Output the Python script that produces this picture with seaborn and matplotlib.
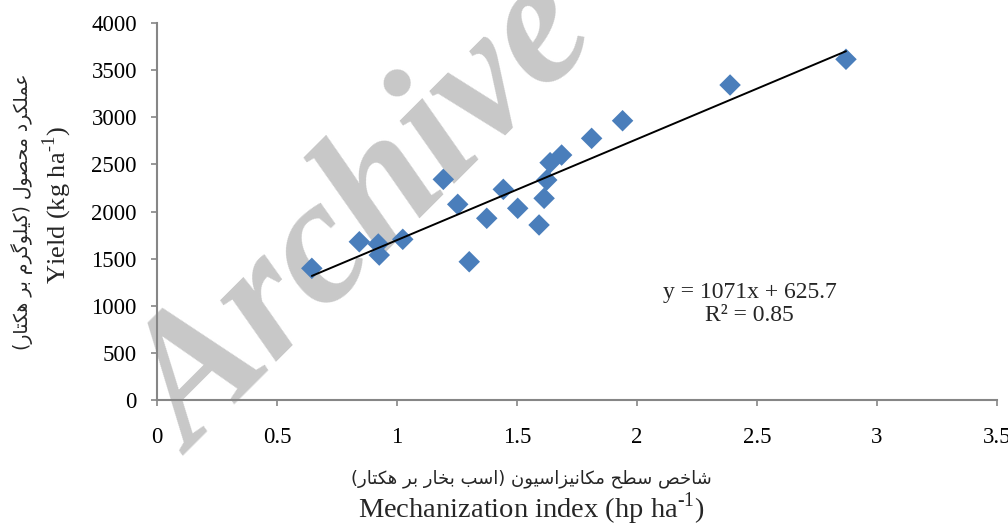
import matplotlib
matplotlib.use("Agg")
import matplotlib.pyplot as plt
import matplotlib.ticker as mticker
import numpy as np
import pandas as pd
import seaborn as sns

# ---------------- data ----------------
mech_index = [0.645, 0.843, 0.922, 0.926, 1.024, 1.193, 1.253, 1.301, 1.374, 1.443,
              1.503, 1.592, 1.613, 1.624, 1.638, 1.686, 1.811, 1.940, 2.388, 2.871]
yield_kg = [1397, 1679, 1655, 1538, 1705, 2341, 2076, 1467, 1928, 2235,
            2034, 1857, 2140, 2334, 2518, 2599, 2776, 2963, 3342, 3615]
slope = 1071
intercept = 625.7
r2 = 0.85
x_ticks = [0, 0.5, 1, 1.5, 2, 2.5, 3, 3.5]
y_ticks = [0, 500, 1000, 1500, 2000, 2500, 3000, 3500, 4000]

xlabel_fa = "شاخص سطح مکانیزاسیون (اسب بخار بر هکتار)"
xlabel_en = r"Mechanization index (hp ha$^{\text{-1}}$)"
ylabel_fa = "عملکرد محصول (کیلوگرم بر هکتار)"
ylabel_en = r"Yield (kg ha$^{\text{-1}}$)"
watermark = "Archive"

# ---------------- minimal Persian shaping (presentation forms) ----------------
FORMS = {
    'ا': (0xFE8D, 0xFE8E, None, None),
    'ب': (0xFE8F, 0xFE90, 0xFE91, 0xFE92),
    'ت': (0xFE95, 0xFE96, 0xFE97, 0xFE98),
    'ح': (0xFEA1, 0xFEA2, 0xFEA3, 0xFEA4),
    'خ': (0xFEA5, 0xFEA6, 0xFEA7, 0xFEA8),
    'د': (0xFEA9, 0xFEAA, None, None),
    'ر': (0xFEAD, 0xFEAE, None, None),
    'ز': (0xFEAF, 0xFEB0, None, None),
    'س': (0xFEB1, 0xFEB2, 0xFEB3, 0xFEB4),
    'ش': (0xFEB5, 0xFEB6, 0xFEB7, 0xFEB8),
    'ص': (0xFEB9, 0xFEBA, 0xFEBB, 0xFEBC),
    'ط': (0xFEC1, 0xFEC2, 0xFEC3, 0xFEC4),
    'ع': (0xFEC9, 0xFECA, 0xFECB, 0xFECC),
    'ل': (0xFEDD, 0xFEDE, 0xFEDF, 0xFEE0),
    'م': (0xFEE1, 0xFEE2, 0xFEE3, 0xFEE4),
    'ن': (0xFEE5, 0xFEE6, 0xFEE7, 0xFEE8),
    'ه': (0xFEE9, 0xFEEA, 0xFEEB, 0xFEEC),
    'و': (0xFEED, 0xFEEE, None, None),
    'ک': (0xFB8E, 0xFB8F, 0xFB90, 0xFB91),
    'گ': (0xFB92, 0xFB93, 0xFB94, 0xFB95),
    'ی': (0xFBFC, 0xFBFD, 0xFBFE, 0xFBFF),
}


def shape_rtl(s):
    out = []
    for i, c in enumerate(s):
        if c not in FORMS:
            out.append(c)
            continue
        prev = s[i - 1] if i > 0 else None
        nxt = s[i + 1] if i + 1 < len(s) else None
        f = FORMS[c]
        jp = prev in FORMS and FORMS[prev][2] is not None
        jn = nxt in FORMS and f[2] is not None
        if jp and jn:
            code = f[3]
        elif jp:
            code = f[1]
        elif jn:
            code = f[2]
        else:
            code = f[0]
        out.append(chr(code))
    vis = ''.join(reversed(out))
    return vis.translate(str.maketrans('()', ')('))


# ---------------- style ----------------
sns.set_theme(style="white")
plt.rcParams['font.family'] = ['Liberation Serif', 'DejaVu Sans']
plt.rcParams['mathtext.fontset'] = 'custom'
plt.rcParams['mathtext.rm'] = 'Liberation Serif'

SPINE = '#868686'
BLUE = '#4A7EBB'

fig = plt.figure(figsize=(10.08, 5.26), dpi=100)
fig.patch.set_facecolor('white')
ax = fig.add_axes([0.1558, 0.2395, 0.8332, 0.7168])

df = pd.DataFrame({'x': mech_index, 'y': yield_kg})
sns.scatterplot(data=df, x='x', y='y', marker='D', s=120, color=BLUE,
                edgecolor='none', linewidth=0, ax=ax, zorder=4)

line_x = np.array([min(mech_index), max(mech_index)])
line_df = pd.DataFrame({'x': line_x, 'y': slope * line_x + intercept})
sns.lineplot(data=line_df, x='x', y='y', color='black', linewidth=1.4, ax=ax, zorder=5)

ax.set_xlim(0, 3.5)
ax.set_ylim(0, 4000)
ax.set_xticks(x_ticks)
ax.set_yticks(y_ticks)
ax.xaxis.set_major_formatter(mticker.FormatStrFormatter('%g'))
ax.set_xlabel('')
ax.set_ylabel('')

for side in ['top', 'right']:
    ax.spines[side].set_visible(False)
for side in ['left', 'bottom']:
    ax.spines[side].set_color(SPINE)
    ax.spines[side].set_linewidth(1.5)
ax.tick_params(axis='both', direction='out', color=SPINE, width=1.2,
               labelsize=16.5, labelcolor='black')
ax.tick_params(axis='y', length=4.5, pad=10, left=True)
ax.tick_params(axis='x', length=4.5, pad=15, bottom=True)
for lab in ax.get_xticklabels() + ax.get_yticklabels():
    lab.set_family('Liberation Serif')

# equation
ax.text(2.47, 1020, f"y = {slope}x + {intercept}\nR² = {r2}", ha='center', va='center',
        fontsize=17, family='Liberation Serif', linespacing=1.15, zorder=6)

# axis labels
fig.text(0.527, 0.090, shape_rtl(xlabel_fa), ha='center', va='center',
         fontsize=13, family='DejaVu Sans')
fig.text(0.527, 0.033, xlabel_en, ha='center', va='center',
         fontsize=20.5, family='Liberation Serif')
fig.text(0.022, 0.597, shape_rtl(ylabel_fa), ha='center', va='center', rotation=90,
         fontsize=13.5, family='DejaVu Sans')
fig.text(0.057, 0.61, ylabel_en, ha='center', va='center', rotation=90,
         fontsize=19, family='Liberation Serif')

# watermark
ax.text(0.364, 0.583, watermark, transform=fig.transFigure, ha='center', va='center',
        rotation=45, fontsize=130, fontweight='bold', fontstyle='italic',
        family='Liberation Serif', color='#C8C8C8', zorder=0.5, clip_on=False)

fig.savefig('out.png', dpi=100, facecolor='white')
